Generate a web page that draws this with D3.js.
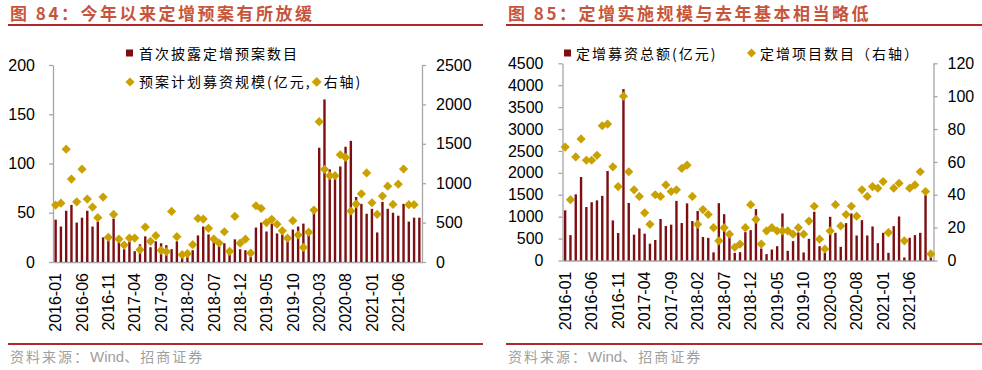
<!DOCTYPE html>
<html>
<head>
<meta charset="utf-8">
<script src="https://cdn.jsdelivr.net/npm/d3@7"></script>
<style>
body{margin:0;background:#fff}
svg{display:block}
</style>
</head>
<body>
<svg id="chart" width="982" height="370"></svg>
<script>
// months 2016-01 .. 2021-10
var months = [
  "2016-01","2016-02","2016-03","2016-04","2016-05","2016-06","2016-07","2016-08","2016-09","2016-10","2016-11","2016-12",
  "2017-01","2017-02","2017-03","2017-04","2017-05","2017-06","2017-07","2017-08","2017-09","2017-10","2017-11","2017-12",
  "2018-01","2018-02","2018-03","2018-04","2018-05","2018-06","2018-07","2018-08","2018-09","2018-10","2018-11","2018-12",
  "2019-01","2019-02","2019-03","2019-04","2019-05","2019-06","2019-07","2019-08","2019-09","2019-10","2019-11","2019-12",
  "2020-01","2020-02","2020-03","2020-04","2020-05","2020-06","2020-07","2020-08","2020-09","2020-10","2020-11","2020-12",
  "2021-01","2021-02","2021-03","2021-04","2021-05","2021-06","2021-07","2021-08","2021-09","2021-10"
];
var xTickLabels = ["2016-01","2016-06","2016-11","2017-04","2017-09","2018-02","2018-07","2018-12","2019-05","2019-10","2020-03","2020-08","2021-01","2021-06"];

// 图84: 首次披露定增预案数目 (left axis) / 预案计划募资规模 亿元 (right axis)
var planCount = [43,36,52,58,40,45,52,36,41,25, 24,44,22,13,21,11,18,26,15,21,
  19,17,13,21,7,7,12,27,36,28, 22,18,19,8,23,13,12,5,35,40,
  31,39,29,28,24,33,36,39,30,52, 116,165,94,89,97,117,123,66,59,49,
  54,30,61,54,50,47,59,41,45,45];
var planAmount = [722,747,1432,1052,764,1178,798,697,562,824, 313,604,291,215,304,304,156,443,262,334,
  148,131,642,321,93,106,220,553,545,427, 291,241,384,135,579,239,290,113,714,680,
  500,542,479,395,302,525,344,185,378,659, 1781,null,1176,1096,1096,1361,1327,647,735,865,
  1130,752,605,836,962,731,987,1180,727,727];

// 图85: 定增募资总额 亿元 (left axis) / 定增项目数目 (right axis)
var raiseAmount = [1145,580,1510,1905,1220,1330,1372,1475,2042,915, 628,3912,1312,590,734,612,384,468,947,787,
  818,1360,855,1304,900,1130,537,517,186,1308, 1057,555,175,190,647,693,1172,274,145,251,
  327,1074,221,442,640,183,495,1112,327,175, 997,632,312,853,1074,571,921,571,777,396,
  632,175,784,1005,69,518,579,632,1492,100];
var projectCount = [69,37,63,74,61,61,64,82,83,57, 45,100,54,43,39,29,22,40,39,46,
  42,43,56,58,39,22,31,28,20,12, 20,16,8,10,20,34,25,10,18,20,
  18,18,18,16,20,16,24,33,13,7, 18,34,21,28,33,27,43,39,45,44,
  48,17,44,47,12,44,46,54,42,4];

var barColor = "#7d0f13";
var dotColor = "#c9a100";
var axisColor = "#a6a6a6";
var numFont = "'Liberation Sans', Arial, sans-serif";
var cjkFont = "'Noto Sans CJK SC', 'Noto Sans', sans-serif";

var svg = d3.select("#chart");
svg.append("rect").attr("width", 982).attr("height", 370).attr("fill", "#fff");

function diamond(r) {
  return "M0," + (-r) + "L" + r + ",0L0," + r + "L" + (-r) + ",0Z";
}

function drawPanel(cfg) {
  var g = svg.append("g");
  var x = d3.scaleBand().domain(months).range([cfg.left, cfg.right]);
  var yL = d3.scaleLinear().domain([0, cfg.lMax]).range([cfg.base, cfg.top]);
  var yR = d3.scaleLinear().domain([0, cfg.rMax]).range([cfg.base, cfg.top]);

  // title + rules
  g.append("text").attr("x", cfg.px + 2).attr("y", 20)
    .style("font-family", cjkFont).style("font-size", "17px").style("font-weight", "bold")
    .style("letter-spacing", "2.5px").attr("fill", "#c8553a").text(cfg.title);
  g.append("line").attr("x1", cfg.px).attr("x2", cfg.px + cfg.pw).attr("y1", 25).attr("y2", 25)
    .attr("stroke", "#b0282b").attr("stroke-width", 2);
  g.append("line").attr("x1", cfg.px).attr("x2", cfg.px + cfg.pw).attr("y1", 344).attr("y2", 344)
    .attr("stroke", "#b0282b").attr("stroke-width", 2);
  var src = g.append("text").attr("x", cfg.px + 2).attr("y", 362)
    .style("font-family", cjkFont).style("font-size", "14px").attr("fill", "#a0a0a0");
  src.append("tspan").style("letter-spacing", "2px").text("资料来源：");
  src.append("tspan").style("font-family", numFont).style("font-size", "15px").text("Wind");
  src.append("tspan").style("letter-spacing", "2px").text("、招商证券");

  // axes
  var fmt = d3.format("d");
  var axL = g.append("g").attr("transform", "translate(" + cfg.left + ",0)")
    .call(d3.axisLeft(yL).tickValues(cfg.lTicks).tickFormat(fmt).tickSize(4).tickSizeOuter(0).tickPadding(cfg.lPad));
  var axR = g.append("g").attr("transform", "translate(" + cfg.right + ",0)")
    .call(d3.axisRight(yR).tickValues(cfg.rTicks).tickFormat(fmt).tickSize(4).tickSizeOuter(0).tickPadding(10));
  var axB = g.append("g").attr("transform", "translate(0," + cfg.base + ")")
    .call(d3.axisBottom(x).tickValues(xTickLabels).tickSize(0).tickSizeOuter(0));

  [axL, axR, axB].forEach(function(a) {
    a.select(".domain").attr("stroke", axisColor).attr("stroke-width", 1.3);
    a.selectAll(".tick line").attr("stroke", axisColor).attr("stroke-width", 1.3);
    a.selectAll("text").style("font-family", numFont).style("font-size", "16px").attr("fill", "#000");
  });
  axB.selectAll("text")
    .attr("y", 0).attr("x", -11).attr("dy", "0.36em")
    .attr("transform", "rotate(-90)").style("text-anchor", "end");

  // bars
  g.append("g").selectAll("rect").data(cfg.bars).join("rect")
    .attr("x", function(d, i) { return x(months[i]) + x.bandwidth() / 2 - 1.2; })
    .attr("width", 2.4)
    .attr("y", function(d) { return yL(d); })
    .attr("height", function(d) { return cfg.base - yL(d); })
    .attr("fill", barColor);

  // diamonds
  g.append("g").selectAll("path").data(cfg.dots).join("path")
    .filter(function(d) { return d != null; })
    .attr("d", diamond(4.6))
    .attr("transform", function(d, i) { return "translate(" + (x(months[i]) + x.bandwidth() / 2) + "," + yR(d) + ")"; })
    .attr("fill", dotColor);

  // legend
  var lg = g.append("g").style("font-family", cjkFont).style("font-size", "14px").style("letter-spacing", "2px");
  cfg.legend(lg);
}

drawPanel({
  px: 8, pw: 475,
  left: 53, right: 422, top: 65, base: 262,
  lMax: 200, rMax: 2500, lPad: 14,
  lTicks: [0, 50, 100, 150, 200], rTicks: [0, 500, 1000, 1500, 2000, 2500],
  bars: planCount, dots: planAmount,
  title: "图 84：今年以来定增预案有所放缓",
  legend: function(lg) {
    lg.append("rect").attr("x", 126).attr("y", 49.5).attr("width", 7).attr("height", 7).attr("fill", barColor);
    lg.append("text").attr("x", 139).attr("y", 59).text("首次披露定增预案数目");
    lg.append("path").attr("d", diamond(4.6)).attr("transform", "translate(130,82)").attr("fill", dotColor);
    var t = lg.append("text").attr("x", 139).attr("y", 87);
    t.append("tspan").text("预案计划募资规模(亿元,");
    t.append("tspan").attr("fill", dotColor).style("font-size", "10px").attr("dy", -1).text("◆");
    t.append("tspan").attr("dy", 1).text("右轴)");
  }
});

drawPanel({
  px: 506, pw: 476,
  left: 562.5, right: 933.5, top: 63.3, base: 260.5,
  lMax: 4500, rMax: 120, lPad: 15,
  lTicks: d3.range(0, 4501, 500), rTicks: [0, 20, 40, 60, 80, 100, 120],
  bars: raiseAmount, dots: projectCount,
  title: "图 85：定增实施规模与去年基本相当略低",
  legend: function(lg) {
    lg.append("rect").attr("x", 564).attr("y", 49.5).attr("width", 7).attr("height", 7).attr("fill", barColor);
    lg.append("text").attr("x", 576).attr("y", 59).text("定增募资总额(亿元)");
    lg.append("path").attr("d", diamond(4.6)).attr("transform", "translate(751.5,53)").attr("fill", dotColor);
    lg.append("text").attr("x", 760).attr("y", 59).text("定增项目数目（右轴）");
  }
});
</script>
</body>
</html>
